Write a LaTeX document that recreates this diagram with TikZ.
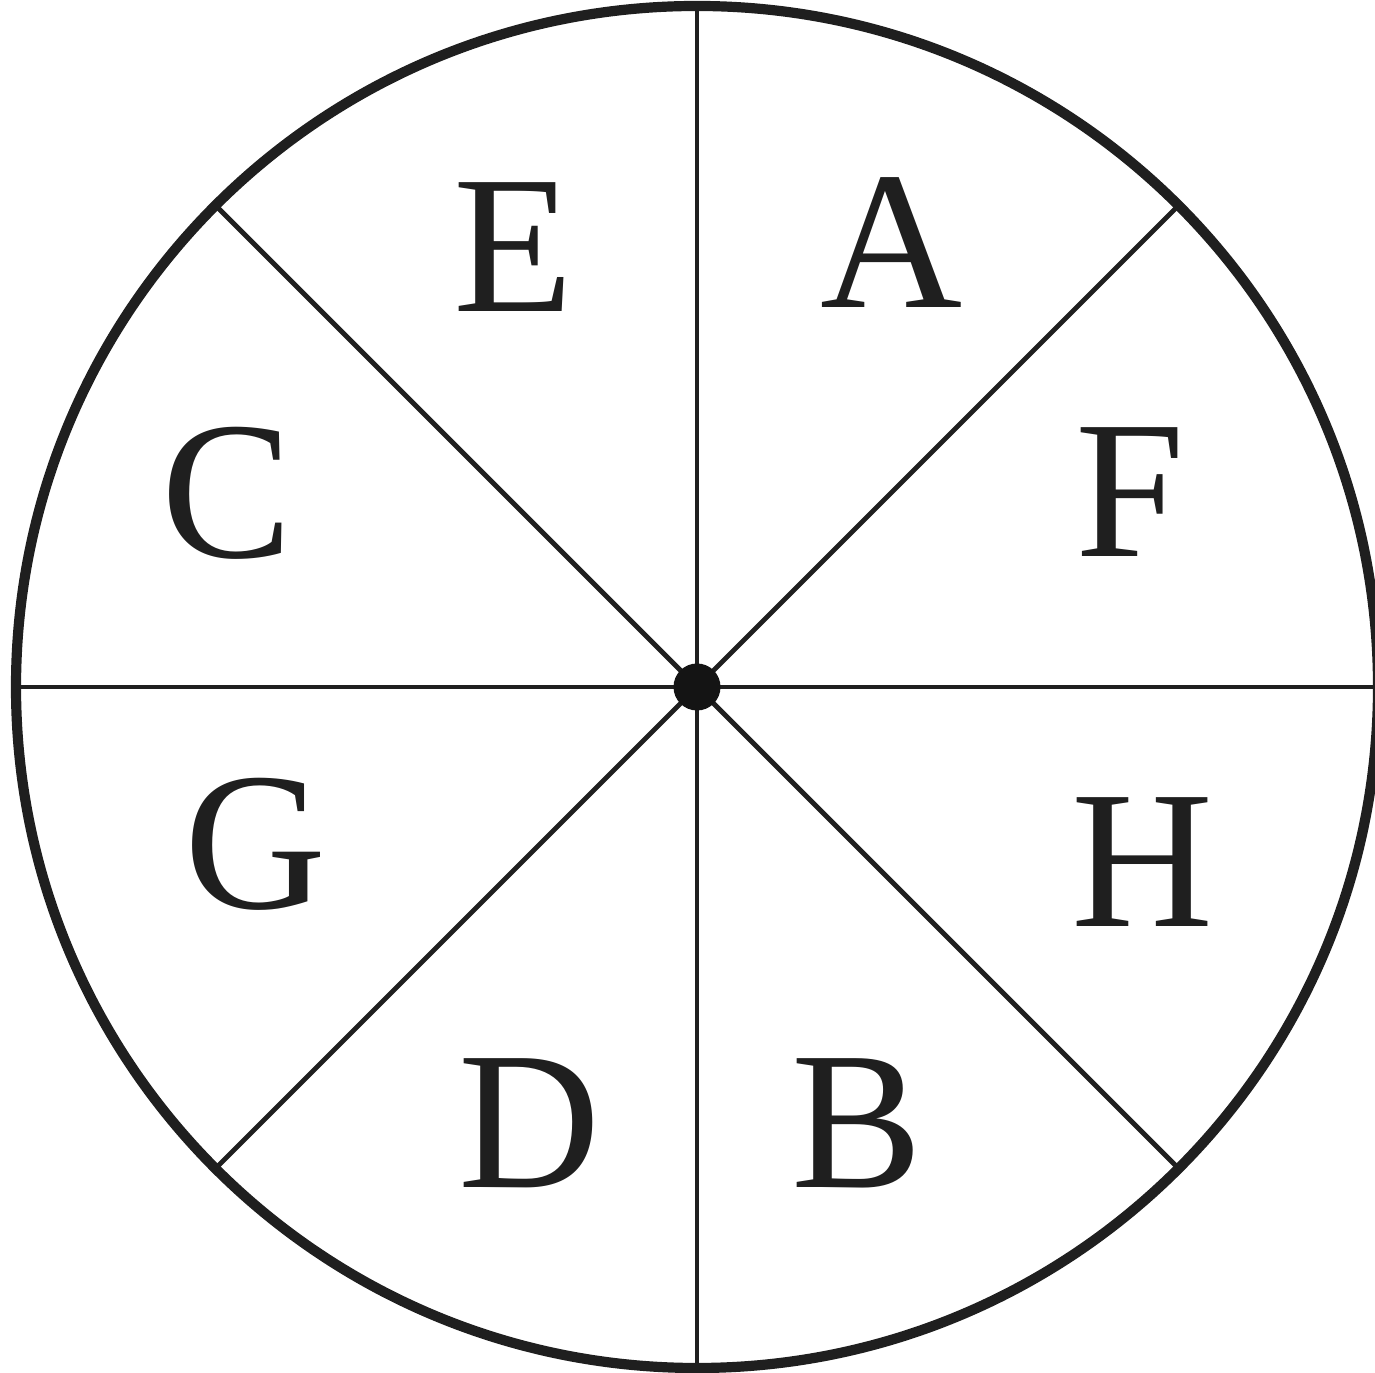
\documentclass[tikz,border=0pt]{standalone}
\usepackage{fontspec}
\setmainfont{Liberation Serif}
\usepackage{tikz}
\def\rad{6.81}

\begin{document}
\begin{tikzpicture}[lbl/.style={anchor=base, inner sep=0pt, font=\fontsize{56}{60}\selectfont, text=black!88}]
\clip (0,0) rectangle (13.75,13.72);
\coordinate (o) at (6.97,6.85);
\foreach \a in {0,45,...,315} \draw[line width=1.4pt, black!88] (o) -- ++(\a:\rad);
\draw[line width=2.9pt, black!88] (o) circle (\rad);
\fill[black!92] (o) circle (0.235);
% letters
\node[lbl] (E) at (5.14,10.60) {E};
\node[lbl] (A) at (8.92,10.64) {A};
\node[lbl] (C) at (2.27,8.14) {C};
\node[lbl] (F) at (11.30,8.15) {F};
\node[lbl] (G) at (2.56,4.63) {G};
\node[lbl] (H) at (11.43,4.45) {H};
\node[lbl] (D) at (5.30,1.84) {D};
\node[lbl] (B) at (8.57,1.84) {B};
\end{tikzpicture}
\end{document}
